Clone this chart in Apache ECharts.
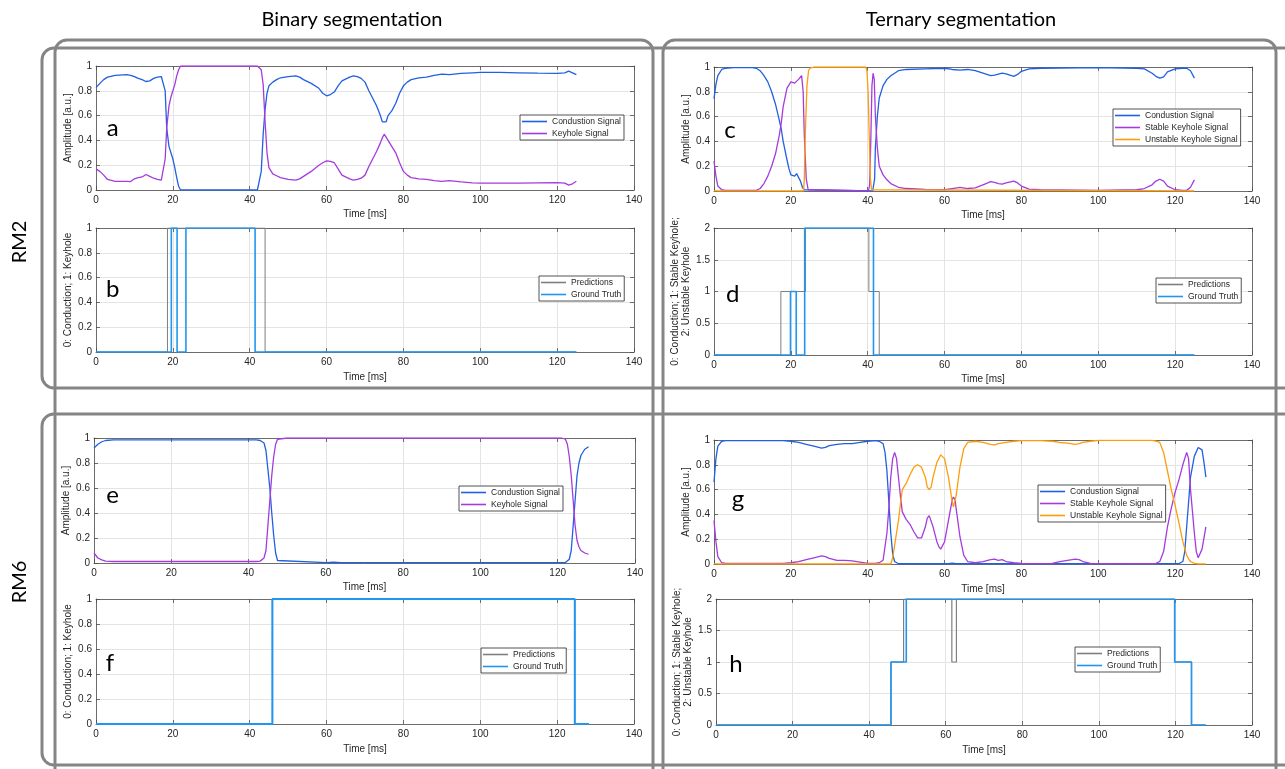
<!DOCTYPE html>
<html><head><meta charset="utf-8">
<script src="https://cdn.jsdelivr.net/npm/echarts/dist/echarts.min.js"></script>
<style>html,body{margin:0;padding:0;background:#fff}#c{width:1285px;height:769px}</style>
</head><body><div id="c"></div><script>
// ---------------- DATA (time [ms], value) ----------------
const xTicks = [0, 20, 40, 60, 80, 100, 120, 140];
const amplitudeTicks = [0, 0.2, 0.4, 0.6, 0.8, 1];
const classTicks3 = [0, 0.5, 1, 1.5, 2];

// Panel a (RM2 binary signals)
const aCond = [[0,0.826],[1,0.86],[2,0.89],[3,0.91],[5,0.925],[8,0.93],[9,0.925],[10,0.915],[11,0.9],[12,0.89],[13,0.875],[14,0.88],[15,0.9],[16,0.91],[17,0.915],[17.5,0.92],[18,0.8],[18.4,0.5],[19,0.35],[19.5,0.3],[20,0.25],[20.5,0.18],[21,0.1],[21.5,0.03],[22,0],[30,0],[42,0],[42.5,0.01],[43,0.15],[43.5,0.45],[44,0.65],[44.5,0.78],[45,0.84],[46,0.87],[47,0.89],[48,0.905],[50,0.915],[52,0.92],[53,0.91],[54,0.89],[56,0.86],[58,0.82],[59,0.78],[60,0.76],[61,0.77],[62,0.79],[63,0.84],[64,0.88],[66,0.91],[67,0.92],[68,0.915],[69,0.9],[70,0.87],[71,0.8],[72,0.74],[73,0.68],[74,0.6],[74.5,0.55],[75,0.54],[75.5,0.55],[76,0.6],[77,0.64],[78,0.7],[79,0.78],[80,0.84],[81,0.87],[82,0.89],[84,0.905],[86,0.91],[88,0.925],[90,0.935],[92,0.93],[95,0.94],[98,0.945],[100,0.948],[105,0.948],[110,0.945],[115,0.942],[120,0.94],[122,0.945],[123,0.958],[124,0.945],[125,0.93]];
const aKey = [[0,0.17],[1,0.15],[2,0.12],[3,0.085],[5,0.07],[8,0.07],[9,0.068],[10,0.09],[11,0.1],[12,0.105],[13,0.125],[14,0.11],[15,0.095],[16,0.085],[17,0.08],[17.5,0.09],[18,0.25],[18.4,0.5],[19,0.68],[19.5,0.75],[20,0.8],[20.5,0.85],[21,0.92],[21.5,0.97],[22,1],[30,1],[42,1],[42.5,1],[43,0.97],[43.5,0.85],[44,0.55],[44.5,0.3],[45,0.18],[46,0.13],[47,0.115],[48,0.1],[50,0.085],[52,0.08],[53,0.09],[54,0.11],[56,0.15],[58,0.2],[59,0.22],[60,0.235],[61,0.23],[62,0.22],[63,0.17],[64,0.12],[66,0.09],[67,0.08],[68,0.085],[69,0.095],[70,0.12],[71,0.19],[72,0.25],[73,0.31],[74,0.38],[74.5,0.42],[75,0.45],[75.5,0.46],[76,0.4],[77,0.35],[78,0.3],[79,0.22],[80,0.15],[81,0.12],[82,0.1],[84,0.09],[86,0.085],[88,0.075],[90,0.07],[92,0.075],[95,0.065],[98,0.058],[100,0.055],[105,0.055],[110,0.055],[115,0.058],[120,0.06],[122,0.055],[123,0.04],[124,0.05],[125,0.07]];

// Panel b (RM2 binary classes, step values held until next time)
const bPred = [[0,0],[18.6,1],[44,0],[125,0]];
const bTruth = [[0,0],[19.6,1],[21.1,0],[23.4,1],[41.4,0],[125,0]];

// Panel c (RM2 ternary signals)
const cCond = [[0,0.745],[0.5,0.86],[1,0.93],[2,0.98],[3,0.99],[5,0.995],[10,0.995],[11,0.99],[12,0.97],[13,0.93],[14,0.88],[15,0.8],[16,0.7],[17,0.57],[17.5,0.5],[18,0.4],[19,0.25],[19.5,0.18],[20,0.13],[21,0.12],[21.5,0.14],[22,0.13],[22.5,0.08],[23,0.03],[23.5,0.01],[24,0],[41.3,0],[41.8,0.1],[42,0.35],[42.5,0.6],[43,0.75],[44,0.85],[45,0.9],[46,0.93],[48,0.97],[50,0.98],[55,0.985],[60,0.99],[62,0.98],[64,0.975],[66,0.98],[68,0.97],[70,0.95],[72,0.93],[73,0.935],[75,0.95],[76,0.945],[78,0.925],[79,0.94],[80,0.965],[82,0.985],[85,0.99],[90,0.992],[100,0.995],[110,0.99],[112,0.985],[114,0.95],[115,0.925],[116,0.91],[117,0.92],[118,0.96],[120,0.985],[122,0.99],[123,0.99],[124,0.97],[125,0.91]];
const cStable = [[0,0.24],[0.5,0.12],[1,0.04],[2,0.01],[3,0.005],[11,0.005],[12,0.02],[13,0.06],[14,0.12],[15,0.2],[16,0.3],[17,0.45],[17.5,0.55],[18,0.68],[19,0.83],[20,0.88],[21,0.87],[21.5,0.86],[22,0.9],[22.8,0.93],[23.2,0.8],[23.5,0.45],[24,0.1],[24.5,0.01],[25,0],[40.2,0],[40.5,0.05],[40.8,0.4],[41.1,0.85],[41.4,0.95],[41.7,0.9],[42,0.6],[42.5,0.35],[43,0.2],[44,0.13],[45,0.09],[46,0.06],[48,0.03],[50,0.02],[55,0.012],[60,0.01],[62,0.02],[64,0.03],[66,0.02],[68,0.025],[70,0.05],[72,0.075],[73,0.07],[74,0.06],[75,0.055],[76,0.065],[78,0.08],[79,0.065],[80,0.04],[82,0.015],[85,0.01],[90,0.008],[100,0.005],[110,0.01],[112,0.02],[114,0.05],[115,0.08],[116,0.095],[117,0.08],[118,0.04],[120,0.01],[122,0.005],[123,0.005],[124,0.03],[125,0.09]];
const cUnstable = [[0,0],[23.3,0],[23.5,0.1],[23.8,0.5],[24.2,0.85],[24.6,0.97],[25,0.99],[26,1],[39.5,1],[39.8,0.97],[40.1,0.8],[40.4,0.45],[40.7,0.1],[41,0.01],[41.5,0],[125,0]];

// Panel d (RM2 ternary classes)
const dPred = [[0,0],[17.4,1],[23.8,2],[40.3,1],[43,0],[125,0]];
const dTruth = [[0,0],[19.9,1],[21.4,0],[23.6,2],[41.5,0],[125,0]];

// Panel e (RM6 binary signals)
const eCond = [[0,0.92],[1,0.95],[2,0.97],[3,0.98],[5,0.985],[42,0.985],[43,0.98],[44,0.96],[44.5,0.9],[45,0.75],[45.5,0.6],[46,0.4],[46.5,0.22],[47,0.08],[47.5,0.02],[48,0.005],[60,0.003],[62,0.006],[64,0.003],[122,0.004],[123,0.03],[123.5,0.1],[124,0.3],[124.5,0.5],[125,0.7],[125.5,0.8],[126,0.86],[127,0.91],[128,0.93]];
const eKey = [[0,0.08],[1,0.04],[2,0.025],[3,0.015],[5,0.012],[42,0.012],[43,0.015],[44,0.04],[44.5,0.1],[45,0.3],[45.5,0.5],[46,0.7],[46.5,0.85],[47,0.95],[47.5,0.99],[48,0.995],[50,1],[121,1],[122,0.99],[122.5,0.95],[123,0.85],[123.5,0.7],[124,0.5],[124.5,0.3],[125,0.18],[125.5,0.13],[126,0.1],[127,0.08],[128,0.07]];

// Panel f (RM6 binary classes)
const fPred = [[0,0],[45.9,1],[124.6,0],[128.3,0]];
const fTruth = [[0,0],[45.9,1],[124.6,0],[128.3,0]];

// Panel g (RM6 ternary signals)
const gCond = [[0,0.66],[0.5,0.85],[1,0.95],[2,0.99],[3,0.995],[18,0.995],[20,0.99],[22,0.98],[24,0.965],[26,0.95],[28,0.935],[29,0.94],[30,0.955],[32,0.965],[34,0.97],[36,0.97],[38,0.98],[40,0.99],[42,0.995],[43,0.99],[44,0.97],[44.5,0.9],[45,0.75],[45.5,0.5],[46,0.25],[46.5,0.08],[47,0.02],[47.5,0.005],[48,0.002],[61,0.002],[62,0.006],[63,0.002],[121,0.003],[122,0.02],[122.5,0.1],[123,0.3],[123.5,0.5],[124,0.7],[125,0.87],[126,0.94],[126.5,0.95],[127,0.92],[127.5,0.82],[128,0.7]];
const gStable = [[0,0.35],[0.5,0.18],[1,0.06],[2,0.01],[3,0.005],[18,0.005],[20,0.01],[22,0.02],[24,0.035],[26,0.05],[28,0.065],[29,0.06],[30,0.045],[32,0.03],[34,0.03],[36,0.025],[38,0.015],[40,0.005],[42,0.005],[43,0.01],[44,0.03],[45,0.25],[45.5,0.45],[46,0.7],[46.5,0.85],[47,0.9],[47.5,0.85],[48,0.7],[48.5,0.55],[49,0.42],[50,0.36],[51,0.32],[52,0.26],[53,0.21],[53.5,0.2],[54,0.21],[55,0.3],[55.5,0.37],[56,0.39],[56.5,0.38],[57,0.3],[58,0.18],[58.5,0.14],[59,0.12],[59.5,0.13],[60,0.18],[61,0.35],[62,0.52],[62.3,0.54],[62.7,0.52],[63,0.45],[64,0.22],[65,0.07],[66,0.02],[68,0.01],[70,0.02],[72,0.035],[73,0.04],[74,0.03],[75,0.035],[76,0.02],[78,0.01],[80,0.005],[85,0.003],[88,0.005],[90,0.02],[92,0.03],[94,0.04],[95,0.035],[96,0.02],[98,0.005],[100,0.003],[114,0.003],[115,0.005],[116,0.02],[117,0.1],[118,0.3],[119,0.45],[120,0.58],[121,0.68],[122,0.8],[123,0.9],[123.5,0.85],[124,0.6],[125,0.25],[125.5,0.1],[126,0.05],[126.5,0.06],[127,0.12],[128,0.3]];
const gUnstable = [[0,0],[46,0],[46.5,0.05],[47,0.15],[47.5,0.25],[48,0.35],[48.5,0.48],[49,0.6],[50,0.65],[51,0.72],[52,0.78],[53,0.8],[54,0.78],[55,0.7],[55.5,0.62],[56,0.6],[56.5,0.62],[57,0.7],[58,0.82],[59,0.88],[60,0.85],[61,0.7],[62,0.5],[62.3,0.46],[62.7,0.47],[63,0.55],[64,0.78],[65,0.93],[66,0.98],[68,0.99],[70,0.98],[72,0.965],[73,0.96],[74,0.97],[76,0.98],[78,0.99],[80,0.995],[85,0.995],[88,0.99],[90,0.98],[92,0.975],[94,0.965],[95,0.97],[96,0.98],[98,0.99],[100,0.997],[114,0.997],[115,0.99],[116,0.98],[117,0.9],[118,0.75],[119,0.6],[120,0.47],[121,0.33],[122,0.18],[123,0.07],[123.5,0.04],[124,0.02],[125,0.005],[126,0],[128,0]];

// Panel h (RM6 ternary classes)
const hPred = [[0,0],[45.7,1],[49,2],[61.6,1],[62.8,2],[119.8,1],[124.2,0],[127.9,0]];
const hTruth = [[0,0],[45.7,1],[49.7,2],[119.8,1],[124.2,0],[127.9,0]];

// ---------------- STYLE / LAYOUT ----------------
const FONT = "'Liberation Sans', Arial, Helvetica, sans-serif";
const C_COND = '#2160E0', C_KEY = '#A43BDE', C_UNST = '#FF9C0A', C_GT = '#2196F0', C_PRED = '#7F7F7F';
const TXT = '#262626';
const NAME_AMP = 'Amplitude [a.u.]';
const NAME_BIN = '0: Conduction; 1: Keyhole';
const NAME_TER = '0: Conduction; 1: Stable Keyhole;\n2: Unstable Keyhole';

const sig = (name, data, color) => ({name, data, color, width: 1.3, step: false});
const cls = (name, data, color, width) => ({name, data, color, width, step: 'end'});

const PANELS = [
  {letter:'a', lx:112.6, ly:128, box:[96,66,538,124], yTicks:amplitudeTicks, yName:NAME_AMP, yGap:21, xGap:19,
   series:[sig('Condustion Signal',aCond,C_COND), sig('Keyhole Signal',aKey,C_KEY)], leg:[520,115]},
  {letter:'b', lx:112.6, ly:289, box:[96,228,538,124], yTicks:amplitudeTicks, yName:NAME_BIN, yGap:21, xGap:20,
   series:[cls('Predictions',bPred,C_PRED,1), cls('Ground Truth',bTruth,C_GT,1.6)], leg:[539,276]},
  {letter:'c', lx:730, ly:130, box:[714,67,538,124], yTicks:amplitudeTicks, yName:NAME_AMP, yGap:21, xGap:19,
   series:[sig('Condustion Signal',cCond,C_COND), sig('Stable Keyhole Signal',cStable,C_KEY), sig('Unstable Keyhole Signal',cUnstable,C_UNST)], leg:[1113,109]},
  {letter:'d', lx:732.6, ly:294, box:[714,228,538,127], yTicks:classTicks3, yName:NAME_TER, yGap:16, xGap:19,
   series:[cls('Predictions',dPred,C_PRED,1), cls('Ground Truth',dTruth,C_GT,1.6)], leg:[1156,278]},
  {letter:'e', lx:112.6, ly:495, box:[94,438,541,125], yTicks:amplitudeTicks, yName:NAME_AMP, yGap:21, xGap:19,
   series:[sig('Condustion Signal',eCond,C_COND), sig('Keyhole Signal',eKey,C_KEY)], leg:[459,486]},
  {letter:'f', lx:110, ly:663, box:[96,599,538,125], yTicks:amplitudeTicks, yName:NAME_BIN, yGap:21, xGap:20,
   series:[cls('Predictions',fPred,C_PRED,1), cls('Ground Truth',fTruth,C_GT,2)], leg:[481,648]},
  {letter:'g', lx:738, ly:499, box:[714,440,538,124], yTicks:amplitudeTicks, yName:NAME_AMP, yGap:21, xGap:20,
   series:[sig('Condustion Signal',gCond,C_COND), sig('Stable Keyhole Signal',gStable,C_KEY), sig('Unstable Keyhole Signal',gUnstable,C_UNST)], leg:[1038,485]},
  {letter:'h', lx:736, ly:664, box:[716,599,536,126], yTicks:classTicks3, yName:NAME_TER, yGap:16, xGap:20,
   series:[cls('Predictions',hPred,C_PRED,1.2), cls('Ground Truth',hTruth,C_GT,1.6)], leg:[1075,647]}
];

const grids = [], xAxes = [], yAxes = [], series = [], legends = [], graphics = [];
const axLine = {show:true, onZero:false, lineStyle:{color:'#4d4d4d', width:0.8}};
const axTick = {show:true, inside:true, length:4, lineStyle:{color:'#4d4d4d', width:0.8}};
const lblStyle = {fontSize:10, color:TXT, fontFamily:FONT};

PANELS.forEach((p, i) => {
  const [L, T, W, H] = p.box;
  grids.push({left:L, top:T, width:W, height:H, containLabel:false});
  const xMin = xTicks[0], xMax = xTicks[xTicks.length-1], xInt = xTicks[1]-xTicks[0];
  const yMin = p.yTicks[0], yMax = p.yTicks[p.yTicks.length-1], yInt = p.yTicks[1]-p.yTicks[0];
  xAxes.push({type:'value', gridIndex:i, position:'bottom', min:xMin, max:xMax, interval:xInt,
    axisLine:axLine, axisTick:axTick,
    splitLine:{show:true, lineStyle:{color:'#e4e4e4', width:1}},
    axisLabel:Object.assign({margin:5}, lblStyle),
    name:'Time [ms]', nameLocation:'middle', nameGap:p.xGap, nameTextStyle:lblStyle});
  xAxes.push({type:'value', gridIndex:i, position:'top', min:xMin, max:xMax, interval:xInt,
    axisLine:axLine, axisTick:axTick, splitLine:{show:false}, axisLabel:{show:false}});
  yAxes.push({type:'value', gridIndex:i, position:'left', min:yMin, max:yMax, interval:yInt,
    axisLine:axLine, axisTick:axTick,
    splitLine:{show:true, lineStyle:{color:'#e4e4e4', width:1}},
    axisLabel:Object.assign({margin:4}, lblStyle),
    name:p.yName, nameLocation:'middle', nameGap:p.yGap, nameRotate:90,
    nameTextStyle:Object.assign({lineHeight:11}, lblStyle)});
  yAxes.push({type:'value', gridIndex:i, position:'right', min:yMin, max:yMax, interval:yInt,
    axisLine:axLine, axisTick:axTick, splitLine:{show:false}, axisLabel:{show:false}});
  p.series.forEach(s => {
    series.push({type:'line', name:s.name, data:s.data, xAxisIndex:2*i, yAxisIndex:2*i,
      step:s.step, showSymbol:false, symbol:'none', color:s.color,
      lineStyle:{color:s.color, width:s.width}, itemStyle:{color:s.color},
      emphasis:{disabled:true}, silent:true, animation:false, clip:true});
  });
  legends.push({left:p.leg[0], top:p.leg[1], orient:'vertical', data:p.series.map(s=>s.name),
    selectedMode:false, icon:'rect', itemWidth:25, itemHeight:1.6, itemGap:3,
    padding:[2,3,2,2], borderColor:'#262626', borderWidth:0.8, backgroundColor:'#fff',
    textStyle:{fontSize:8.5, color:TXT, fontFamily:FONT}});
  graphics.push({type:'text', x:p.lx, y:p.ly, z:10,
    style:{text:p.letter, fontSize:24, fontFamily:'Lato, sans-serif', fill:'#000',
      textAlign:'center', textVerticalAlign:'middle', align:'center', verticalAlign:'middle'}});
});

// frames & headers
const frame = (x, y, w, h) => ({type:'rect', shape:{x, y, width:w, height:h, r:12}, z:0,
  style:{fill:'none', stroke:'#858585', lineWidth:3}});
graphics.push(frame(55, 40, 598, 740));
graphics.push(frame(663, 40, 613, 740));
graphics.push(frame(42, 48, 1260, 340));
graphics.push(frame(42, 414, 1260, 351));
const head = (text, x, y, rot) => ({type:'text', x, y, rotation:rot||0, z:10,
  style:{text, fontSize:20, fontFamily:'Lato, sans-serif', fill:'#000',
    textAlign:'center', textVerticalAlign:'middle', align:'center', verticalAlign:'middle'}});
graphics.push(head('Binary segmentation', 352, 20));
graphics.push(head('Ternary segmentation', 961, 20));
graphics.push(head('RM2', 20, 242, Math.PI/2));
graphics.push(head('RM6', 20, 582, Math.PI/2));

const chart = echarts.init(document.getElementById('c'), null, {renderer:'canvas'});
chart.setOption({
  backgroundColor:'#fff', animation:false,
  grid:grids, xAxis:xAxes, yAxis:yAxes, series:series, legend:legends, graphic:graphics
});
</script></body></html>
